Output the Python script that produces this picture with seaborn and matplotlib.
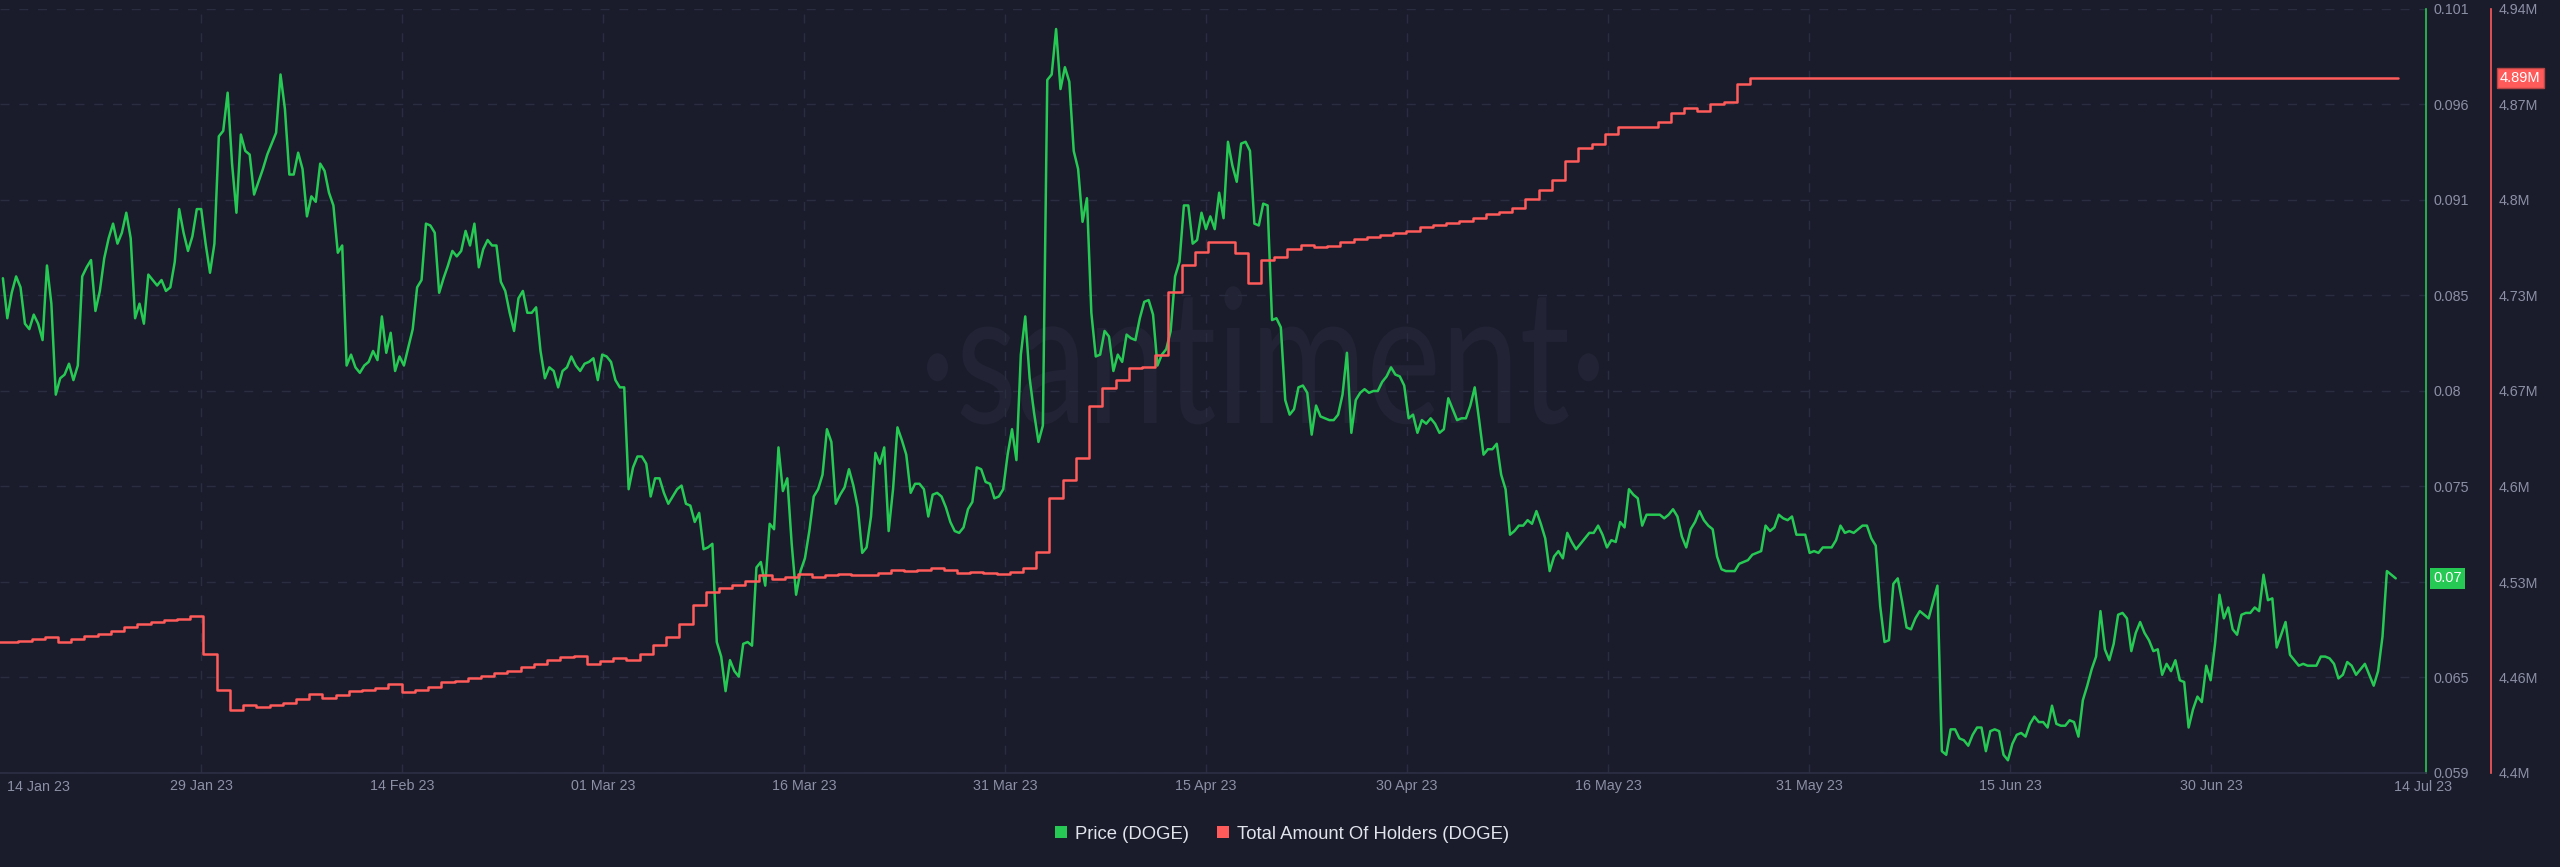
import numpy as np
import pandas as pd
import matplotlib
matplotlib.use("Agg")
import matplotlib.pyplot as plt
from matplotlib.patches import Patch, PathPatch
from matplotlib.textpath import TextPath
from matplotlib.font_manager import FontProperties
from matplotlib.transforms import Affine2D
import seaborn as sns

# ---------------- data ----------------
price_start = "2023-01-13 20:00"
price_freq = "8h"
price_values = [
    0.0862, 0.0840, 0.0854, 0.0863, 0.0857, 0.0837, 0.0834, 0.0842, 0.0837, 0.0828,
    0.0869, 0.0848, 0.0798, 0.0807, 0.0809, 0.0815, 0.0806, 0.0814, 0.0863, 0.0868,
    0.0872, 0.0844, 0.0855, 0.0873, 0.0884, 0.0892, 0.0881, 0.0887, 0.0898, 0.0884,
    0.0840, 0.0848, 0.0837, 0.0864, 0.0861, 0.0858, 0.0861, 0.0855, 0.0857, 0.0871,
    0.0900, 0.0887, 0.0877, 0.0885, 0.0900, 0.0900, 0.0881, 0.0865, 0.0881, 0.0940,
    0.0943, 0.0964, 0.0925, 0.0898, 0.0941, 0.0932, 0.0930, 0.0908, 0.0915, 0.0922,
    0.0930, 0.0936, 0.0942, 0.0974, 0.0955, 0.0919, 0.0919, 0.0931, 0.0922, 0.0896,
    0.0907, 0.0904, 0.0925, 0.0921, 0.0909, 0.0902, 0.0876, 0.0880, 0.0814, 0.0820,
    0.0813, 0.0810, 0.0814, 0.0816, 0.0822, 0.0817, 0.0841, 0.0821, 0.0832, 0.0811,
    0.0819, 0.0814, 0.0824,
    0.0834, 0.0857, 0.0861, 0.0892, 0.0891, 0.0887, 0.0854, 0.0862, 0.0869, 0.0877,
    0.0874, 0.0877, 0.0888, 0.0880, 0.0892, 0.0868, 0.0878, 0.0883, 0.0880, 0.0880,
    0.0860, 0.0855, 0.0843, 0.0833, 0.0851, 0.0855, 0.0843, 0.0843, 0.0846, 0.0822,
    0.0807, 0.0813, 0.0811, 0.0802, 0.0811, 0.0813, 0.0819, 0.0814, 0.0811, 0.0815,
    0.0816, 0.0818, 0.0806, 0.0820, 0.0819, 0.0816, 0.0806, 0.0802, 0.0802, 0.0746,
    0.0758, 0.0764, 0.0764, 0.0760, 0.0742, 0.0752, 0.0752, 0.0744, 0.0738, 0.0742,
    0.0746, 0.0748, 0.0738, 0.0737, 0.0728, 0.0733, 0.0713, 0.0714, 0.0716, 0.0662,
    0.0654, 0.0635, 0.0652, 0.0646, 0.0643, 0.0661, 0.0662, 0.0660, 0.0703, 0.0706,
    0.0693, 0.0727, 0.0724, 0.0769, 0.0745, 0.0752, 0.0716, 0.0688, 0.0701, 0.0708,
    0.0723,
    0.0742, 0.0746, 0.0754, 0.0779, 0.0772, 0.0738, 0.0743, 0.0747, 0.0757, 0.0748,
    0.0736, 0.0711, 0.0714, 0.0731, 0.0766, 0.0760, 0.0769, 0.0723, 0.0746, 0.0780,
    0.0773, 0.0765, 0.0744, 0.0749, 0.0749, 0.0746, 0.0731, 0.0743, 0.0744, 0.0742,
    0.0736, 0.0728, 0.0723, 0.0722, 0.0725, 0.0735, 0.0739, 0.0758, 0.0757, 0.0750,
    0.0749, 0.0741, 0.0742, 0.0746, 0.0765, 0.0779, 0.0762, 0.0820, 0.0841, 0.0807,
    0.0788, 0.0772, 0.0781, 0.0971, 0.0974, 0.0999, 0.0966, 0.0978, 0.0970, 0.0932,
    0.0922, 0.0893, 0.0906, 0.0843, 0.0819, 0.0820, 0.0833, 0.0830, 0.0811, 0.0820,
    0.0816, 0.0831, 0.0829, 0.0828, 0.0840, 0.0849, 0.0850, 0.0842, 0.0814, 0.0820,
    0.0823, 0.0833, 0.0863, 0.0871, 0.0902, 0.0902, 0.0881, 0.0883, 0.0898, 0.0889,
    0.0896,
    0.0889, 0.0909, 0.0895, 0.0937, 0.0924, 0.0915, 0.0936, 0.0937, 0.0932, 0.0892,
    0.0891, 0.0903, 0.0902, 0.0839, 0.0840, 0.0835, 0.0795, 0.0787, 0.0790, 0.0802,
    0.0803, 0.0799, 0.0776, 0.0792, 0.0786, 0.0785, 0.0784, 0.0784, 0.0787, 0.0798,
    0.0821, 0.0777, 0.0795, 0.0799, 0.0801, 0.0799, 0.0800, 0.0800, 0.0805, 0.0808,
    0.0813, 0.0809, 0.0808, 0.0803, 0.0785, 0.0787, 0.0777, 0.0784, 0.0782, 0.0785,
    0.0782, 0.0777, 0.0779, 0.0796, 0.0790, 0.0784, 0.0785, 0.0785, 0.0792, 0.0802,
    0.0784, 0.0765, 0.0768, 0.0768, 0.0771, 0.0754, 0.0746, 0.0721, 0.0723, 0.0726,
    0.0726, 0.0729, 0.0727, 0.0734, 0.0727, 0.0719, 0.0701, 0.0709, 0.0712, 0.0708,
    0.0722, 0.0717, 0.0713, 0.0716, 0.0719, 0.0722, 0.0722, 0.0726, 0.0721, 0.0714,
    0.0718, 0.0717, 0.0728, 0.0725, 0.0746, 0.0743, 0.0741, 0.0726, 0.0732, 0.0732,
    0.0732, 0.0732, 0.0730, 0.0732, 0.0735, 0.0731, 0.0720, 0.0714, 0.0724, 0.0728,
    0.0734, 0.0729, 0.0726, 0.0724, 0.0709, 0.0702, 0.0701, 0.0701, 0.0701, 0.0705,
    0.0706, 0.0707, 0.0710, 0.0711, 0.0712, 0.0726, 0.0723, 0.0725, 0.0732, 0.0730,
    0.0729, 0.0731, 0.0721, 0.0721, 0.0721, 0.0711, 0.0712, 0.0711, 0.0714, 0.0714,
    0.0714, 0.0718, 0.0726, 0.0722, 0.0723, 0.0722, 0.0724, 0.0726, 0.0726, 0.0719,
    0.0715, 0.0682, 0.0662, 0.0663, 0.0694, 0.0697, 0.0684, 0.0670, 0.0669, 0.0675,
    0.0679, 0.0677, 0.0675, 0.0684, 0.0693, 0.0602, 0.0600, 0.0614, 0.0614, 0.0609,
    0.0608, 0.0605, 0.0611, 0.0615, 0.0615, 0.0602, 0.0613, 0.0614, 0.0613, 0.0600,
    0.0597,
    0.0606, 0.0611, 0.0612, 0.0610, 0.0617, 0.0621, 0.0618, 0.0618, 0.0615, 0.0627,
    0.0617, 0.0616, 0.0616, 0.0619, 0.0618, 0.0610, 0.0630, 0.0638, 0.0647, 0.0654,
    0.0679, 0.0658, 0.0652, 0.0661, 0.0677, 0.0678, 0.0675, 0.0657, 0.0667, 0.0673,
    0.0667, 0.0663, 0.0657, 0.0658, 0.0644, 0.0650, 0.0646, 0.0652, 0.0641, 0.0640,
    0.0615, 0.0625, 0.0632, 0.0629, 0.0649, 0.0641, 0.0661, 0.0688, 0.0675, 0.0681,
    0.0669, 0.0666, 0.0677, 0.0678, 0.0678, 0.0681, 0.0679, 0.0699, 0.0685, 0.0686,
    0.0659, 0.0666, 0.0673, 0.0655, 0.0652, 0.0649, 0.0650, 0.0649, 0.0649, 0.0649,
    0.0654, 0.0654, 0.0653, 0.0650, 0.0642, 0.0644, 0.0651, 0.0649, 0.0644, 0.0647,
    0.0650, 0.0644, 0.0638, 0.0646, 0.0665, 0.0701, 0.0699, 0.0697,
]

holders_start = "2023-01-13"
holders_freq = "D"
holders_millions = [
    4.4924, 4.4924, 4.4931, 4.4945, 4.4960, 4.4924, 4.4949, 4.4970, 4.4984, 4.5005,
    4.5030, 4.5054, 4.5069, 4.5079, 4.5090, 4.5111, 4.4844, 4.4590, 4.4446, 4.4481,
    4.4464, 4.4481, 4.4495, 4.4524, 4.4555, 4.4527, 4.4552, 4.4580, 4.4587, 4.4604,
    4.4626, 4.4575, 4.4590, 4.4611, 4.4640, 4.4650, 4.4671, 4.4685, 4.4706, 4.4724,
    4.4749, 4.4773, 4.4798, 4.4822, 4.4826, 4.4770, 4.4791, 4.4815, 4.4801, 4.4840,
    4.4903, 4.4963, 4.5051, 4.5188, 4.5276, 4.5311, 4.5332, 4.5360, 4.5396, 4.5371,
    4.5388, 4.5406, 4.5388, 4.5396, 4.5406, 4.5396, 4.5403, 4.5413, 4.5434, 4.5431,
    4.5438, 4.5448, 4.5438, 4.5413, 4.5424, 4.5417, 4.5406, 4.5424, 4.5448, 4.5564,
    4.5941, 4.6074, 4.6225, 4.6594, 4.6718, 4.6777, 4.6865, 4.6872, 4.6953, 4.7403,
    4.7593, 4.7684, 4.7755, 4.7751, 4.7677, 4.7463, 4.7628, 4.7646, 4.7702, 4.7730,
    4.7716, 4.7723, 4.7751, 4.7772, 4.7786, 4.7800, 4.7815, 4.7832, 4.7857, 4.7874,
    4.7888, 4.7899, 4.7920, 4.7948, 4.7962, 4.7990, 4.8054, 4.8124, 4.8191, 4.8328,
    4.8419, 4.8447, 4.8518, 4.8563, 4.8563, 4.8563, 4.8599, 4.8662, 4.8697, 4.8679,
    4.8729, 4.8746, 4.8873, 4.8911, 4.8911, 4.8911, 4.8911, 4.8911, 4.8911, 4.8911,
    4.8911, 4.8911, 4.8911, 4.8911, 4.8911, 4.8911, 4.8911, 4.8911, 4.8911, 4.8911,
    4.8911, 4.8911, 4.8911, 4.8911, 4.8911, 4.8911, 4.8911, 4.8911, 4.8911, 4.8911,
    4.8911, 4.8911, 4.8911, 4.8911, 4.8911, 4.8911, 4.8911, 4.8911, 4.8911, 4.8911,
    4.8911, 4.8911, 4.8911, 4.8911, 4.8911, 4.8911, 4.8911, 4.8911, 4.8911, 4.8911,
    4.8911, 4.8911, 4.8911,
]

x_tick_labels = ["29 Jan 23", "14 Feb 23", "01 Mar 23", "16 Mar 23", "31 Mar 23",
                 "15 Apr 23", "30 Apr 23", "16 May 23", "31 May 23", "15 Jun 23",
                 "30 Jun 23"]
x_edge_labels = ["14 Jan 23", "14 Jul 23"]
price_tick_labels = ["0.059", "0.065", "0.07", "0.075", "0.08", "0.085", "0.091",
                     "0.096", "0.101"]
holders_tick_labels = ["4.4M", "4.46M", "4.53M", "4.6M", "4.67M", "4.73M", "4.8M",
                       "4.87M", "4.94M"]
series_names = ["Price (DOGE)", "Total Amount Of Holders (DOGE)"]

# ---------------- style ----------------
BG = "#1a1b2b"
GREEN = "#26c953"
RED = "#ff5b5b"
GRID = "#2a2c40"
TICK = "#8c90a5"
WM = "#222435"

sns.set_style("dark")
plt.rcParams["font.family"] = ["Liberation Sans", "DejaVu Sans"]

W, H = 2560, 867
fig = plt.figure(figsize=(W / 100, H / 100), dpi=100, facecolor=BG)
ax = fig.add_axes([0, 1 - 773 / H, 2426 / W, (773 - 9) / H])
ax.set_facecolor("none")
ax2 = ax.twinx()
ax2.set_facecolor("none")

df_p = pd.DataFrame({"date": pd.date_range(price_start, periods=len(price_values), freq=price_freq),
                     "price": price_values})
df_h = pd.DataFrame({"date": pd.date_range(holders_start, periods=len(holders_millions), freq=holders_freq),
                     "holders": holders_millions})

sns.lineplot(data=df_p, x="date", y="price", ax=ax, color=GREEN, linewidth=1.8,
             estimator=None, errorbar=None, legend=False, zorder=3)
sns.lineplot(data=df_h, x="date", y="holders", ax=ax2, color=RED, linewidth=1.8,
             drawstyle="steps-post", estimator=None, errorbar=None, legend=False, zorder=3)

# x range: 13.22 px per day across 2426 px
px_per_day = 13.22
left = pd.Timestamp("2023-01-14") - pd.Timedelta(days=5.1 / px_per_day)
right = left + pd.Timedelta(days=2426 / px_per_day)
ax.set_xlim(left, right)
tick_step = pd.Timedelta(days=201.0 / px_per_day)
ticks = [left + tick_step * (i + 1) for i in range(len(x_tick_labels))]
ax.set_xticks(ticks)
ax.set_xticklabels(x_tick_labels)

ax.set_ylim(0.059, 0.101)
ax2.set_ylim(4.4, 4.94)
ax.yaxis.tick_right()
ax.set_yticks(np.linspace(0.059, 0.101, len(price_tick_labels)))
ax.set_yticklabels(price_tick_labels)
ax2.set_yticks(np.linspace(4.4, 4.94, len(holders_tick_labels)))
ax2.set_yticklabels(holders_tick_labels)

for a in (ax, ax2):
    a.set_xlabel("")
    a.set_ylabel("")

ax.tick_params(axis="x", colors=TICK, labelsize=10.3, length=0, pad=4)
ax.tick_params(axis="y", colors=TICK, labelsize=10.3, length=0, pad=5.5,
               labelright=True, labelleft=False)
ax2.tick_params(axis="y", colors=TICK, labelsize=10.3, length=0, pad=5.5)

ax.grid(True, axis="both", color=GRID, linestyle=(0, (6.5, 7)), linewidth=1)
ax2.grid(False)

for s in ("top", "left"):
    ax.spines[s].set_visible(False)
ax.spines["bottom"].set_color("#2d3045")
ax.spines["bottom"].set_linewidth(1.2)
ax.spines["right"].set_color(GREEN)
ax.spines["right"].set_linewidth(1.2)
for s in ("top", "left", "bottom"):
    ax2.spines[s].set_visible(False)
ax2.spines["right"].set_position(("axes", 2491 / 2426))
ax2.spines["right"].set_color(RED)
ax2.spines["right"].set_linewidth(1.2)

# edge date labels
ax.text(7 / 2426, -13.7 / 764, x_edge_labels[0], transform=ax.transAxes,
        ha="left", va="center", color=TICK, fontsize=10.3)
ax.text(2394 / 2426, -13.7 / 764, x_edge_labels[1], transform=ax.transAxes,
        ha="left", va="center", color=TICK, fontsize=10.3, clip_on=False)

# last value badges
ax.annotate(f"{price_values[-1]:.2f}", xy=(1, price_values[-1]),
            xycoords=("axes fraction", "data"), xytext=(7, 0), textcoords="offset pixels",
            ha="left", va="center", color="white", fontsize=10.5,
            bbox=dict(boxstyle="square,pad=0.22", fc=GREEN, ec="none"),
            annotation_clip=False, zorder=10)
ax2.annotate(f"{holders_millions[-1]:.2f}M", xy=(1, holders_millions[-1]),
             xycoords=("axes fraction", "data"), xytext=(74, 0), textcoords="offset pixels",
             ha="left", va="center", color="white", fontsize=10.5,
             bbox=dict(boxstyle="square,pad=0.2", fc=RED, ec="#b84444", lw=1),
             annotation_clip=False, zorder=10)

# watermark
fp = FontProperties(family=["Lato", "DejaVu Sans"])
tp = TextPath((0, 0), "\u00b7santiment\u00b7", size=100, prop=fp)
tx = TextPath((0, 0), "x", size=100, prop=fp)
ext = tp.get_extents()
sy = 95 / tx.get_extents().height
sx = 672 / ext.width
wm = PathPatch(tp, transform=Affine2D().translate(-ext.x0, 0).scale(sx, sy).translate(927, H - 423),
               fc=WM, ec="none", zorder=-1)
fig.add_artist(wm)

# legend
handles = [Patch(facecolor=GREEN, edgecolor="none"), Patch(facecolor=RED, edgecolor="none")]
fig.legend(handles, series_names, loc="center", bbox_to_anchor=(0.5008, 0.038), ncol=2,
           frameon=False, fontsize=13.3, handlelength=0.66, handleheight=0.66,
           handletextpad=0.45, columnspacing=1.5, labelcolor="#e2e4ec")

fig.savefig("out.png", dpi=100, facecolor=BG)
